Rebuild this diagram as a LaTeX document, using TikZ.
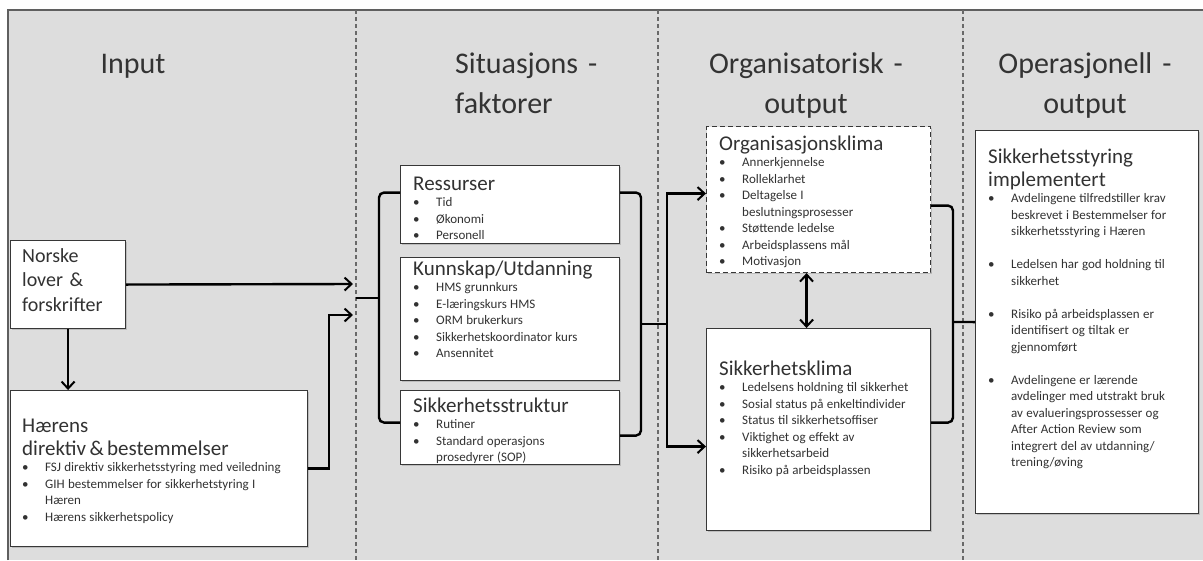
\documentclass[tikz,border=0pt]{standalone}
\usepackage{fontspec}
\setmainfont{Carlito}
\usetikzlibrary{arrows.meta,shadows}
\definecolor{bgc}{RGB}{221,221,221}
\definecolor{txtc}{RGB}{50,50,50}
\definecolor{edgec}{RGB}{55,55,55}
\definecolor{divc}{RGB}{105,105,105}
\setlength{\parindent}{0pt}
\newcommand{\ttl}[1]{{\fontsize{21}{23}\selectfont\strut #1\par}}
\newcommand{\itm}[1]{{\fontsize{13}{16.5}\selectfont\hangindent=23pt\hangafter=1\noindent\makebox[23pt][l]{\textbullet}#1\par}}
\newcommand{\gapline}{\vspace{16.5pt}}
\tikzset{
  box/.style={draw=edgec, line width=1.1pt, fill=white, anchor=north west, inner sep=0pt,
    drop shadow={opacity=0.35, shadow xshift=1.5pt, shadow yshift=-1.5pt}},
  txt/.style={anchor=north west, inner sep=0pt, text width=#1, align=left, text=txtc},
  hdr/.style={anchor=north, inner sep=0pt, text width=260pt, align=center,
    font=\fontsize{30}{40}\selectfont, text=black!80},
  hdrl/.style={hdr, anchor=north west, align=left},
  conn/.style={line width=2.4pt, black},
  arr/.style={conn, -{Straight Barb[length=7pt,width=13pt,line width=2pt]}},
  arrboth/.style={conn, {Straight Barb[length=7pt,width=13pt,line width=2pt]}-{Straight Barb[length=7pt,width=13pt,line width=2pt]}},
  divider/.style={draw=divc, line width=1.3pt, dash pattern=on 4pt off 3pt}
}
\begin{document}
\begin{tikzpicture}[x=1pt,y=-1pt]
\useasboundingbox (0,0) rectangle (1203,560);
% background
\fill[bgc] (8,10) rectangle (1203,560);
\draw[edgec!80, line width=1.2pt] (8,560) -- (8,10) -- (1203,10);
\draw[divider] (356,10) -- (356,560);
\draw[divider] (658,10) -- (658,560);
\draw[divider] (963,10) -- (963,560);

% headers
\node[hdr] (h1) at (133,45) {\strut Input};
\node[hdrl] (h2) at (455,45) {\strut Situasjons -\\faktorer};
\node[hdr] (h3) at (806,45) {\strut Organisatorisk -\\output};
\node[hdr] (h4) at (1085,45) {\strut Operasjonell -\\output};

% boxes
\node[box, minimum width=115pt, minimum height=88pt] (norske) at (10,240) {};
\node[box, minimum width=297pt, minimum height=156pt] (haerens) at (10,390) {};
\node[box, minimum width=219pt, minimum height=78pt] (ressurser) at (400,165) {};
\node[box, minimum width=219pt, minimum height=123pt] (kunnskap) at (400,257) {};
\node[box, minimum width=219pt, minimum height=74pt] (struktur) at (400,390) {};
\node[box, dashed, dash pattern=on 5pt off 3pt, minimum width=224pt, minimum height=146pt] (orgklima) at (706,126) {};
\node[box, minimum width=224pt, minimum height=202pt] (sikklima) at (706,328) {};
\node[box, minimum width=223pt, minimum height=383pt] (styring) at (975,130) {};

% texts
\node[txt=100pt, font=\fontsize{20}{24.5}\selectfont] (norsket) at (22,245) {\strut Norske\\lover \&\\forskrifter};
\node[txt=283pt] (haerenst) at (22,416) {%
  \ttl{Hærens\newline direktiv \& bestemmelser}%
  \itm{FSJ direktiv sikkerhetsstyring med veiledning}%
  \itm{GIH bestemmelser for sikkerhetstyring I\newline Hæren}%
  \itm{Hærens sikkerhetspolicy}};
\node[txt=204pt] (ressurst) at (413,174) {%
  \ttl{Ressurser}\itm{Tid}\itm{Økonomi}\itm{Personell}};
\node[txt=204pt] (kunnskapt) at (413,259) {%
  \ttl{Kunnskap/Utdanning}\itm{HMS grunnkurs}\itm{E-læringskurs HMS}\itm{ORM brukerkurs}%
  \itm{Sikkerhetskoordinator kurs}\itm{Ansennitet}};
\node[txt=204pt] (strukturt) at (413,396) {%
  \ttl{Sikkerhetsstruktur}\itm{Rutiner}\itm{Standard operasjons\newline prosedyrer (SOP)}};
\node[txt=209pt] (orgklimat) at (719,134) {%
  \ttl{Organisasjonsklima}\itm{Annerkjennelse}\itm{Rolleklarhet}%
  \itm{Deltagelse I\newline beslutningsprosesser}\itm{Støttende ledelse}%
  \itm{Arbeidsplassens mål}\itm{Motivasjon}};
\node[txt=209pt] (sikklimat) at (719,359) {%
  \ttl{Sikkerhetsklima}\itm{Ledelsens holdning til sikkerhet}%
  \itm{Sosial status på enkeltindivider}\itm{Status til sikkerhetsoffiser}%
  \itm{Viktighet og effekt av\newline sikkerhetsarbeid}\itm{Risiko på arbeidsplassen}};
\node[txt=205pt] (styringt) at (988,147) {%
  \ttl{Sikkerhetsstyring\newline implementert}%
  \itm{Avdelingene tilfredstiller krav\newline beskrevet i Bestemmelser for\newline sikkerhetsstyring i Hæren}\gapline
  \itm{Ledelsen har god holdning til\newline sikkerhet}\gapline
  \itm{Risiko på arbeidsplassen er\newline identifisert og tiltak er\newline gjennomført}\gapline
  \itm{Avdelingene er lærende\newline avdelinger med utstrakt bruk\newline av evalueringsprossesser og\newline After Action Review som\newline integrert del av utdanning/\newline trening/øving}};

% connectors: input column
\coordinate (in1) at (353,284);
\coordinate (in2) at (353,315);
\draw[arr] (norske.east) -- (in1);
\draw[arr] (norske.south) -- (haerens.north -| norske.south);
\draw[arr] (haerens.east) -- ++(21,0) |- (in2);

% brace left of situasjons column
\coordinate (bl) at (379,298);
\draw[conn, rounded corners=5pt] ([yshift=12pt]ressurser.west) -| (bl) |- ([yshift=5pt]struktur.west);
\draw[conn] (bl) -- (356,298);

% brace right of situasjons column
\coordinate (br) at (641,324);
\coordinate (fork) at (667,324);
\draw[conn, rounded corners=5pt] ([yshift=12pt]ressurser.east) -| (br) |- ([yshift=-8pt]struktur.east);
\draw[conn] (br) -- (fork);
\draw[arr] (fork) |- ([yshift=6pt]orgklima.west);
\draw[arr] (fork) |- ([yshift=-17pt]sikklima.west);

% between climates
\draw[arrboth] ([xshift=-12pt]orgklima.south) -- ([xshift=-12pt]orgklima.south |- sikklima.north);

% brace into operational output
\coordinate (bo) at (953,322);
\draw[conn, rounded corners=5pt] ([yshift=-6pt]orgklima.east) -| (bo) |- ([yshift=7pt]sikklima.east);
\draw[conn] (bo) -- (styring.west);
\end{tikzpicture}
\end{document}
